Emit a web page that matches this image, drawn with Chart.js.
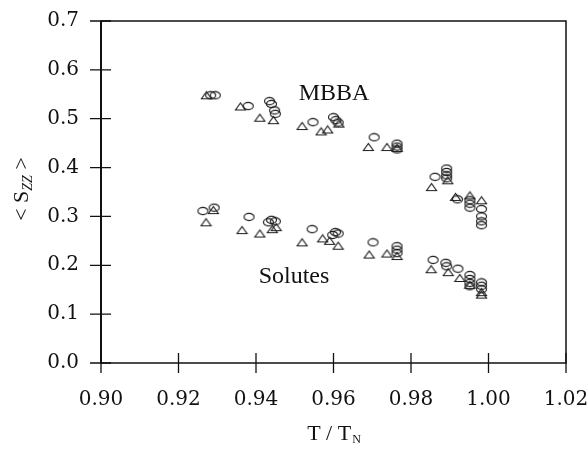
<!DOCTYPE html>
<html lang="en">
<head>
    <meta charset="UTF-8">
    <title>Order parameter vs reduced temperature</title>
    <script src="https://cdn.jsdelivr.net/npm/chart.js@4.4.1/dist/chart.umd.min.js"></script>
    <style>
        body{
            margin: 0;
            padding: 0;
            background-color: white;
        }
        #wrap{
            width: 588px;
            height: 452px;
        }
    </style>
</head>
<body>
    <div id="wrap"><canvas id="mychart" width="588" height="452"></canvas></div>
    <script>
        // values
        const mbbaCircT = [0.9283,0.9295,0.9380,0.9435,0.9440,0.9448,0.9450,0.9547,0.9600,0.9606,0.9612,0.9705,0.9764,0.9764,0.9764,0.9862,0.9892,0.9892,0.9892,0.9892,0.9920,0.9952,0.9952,0.9952,0.9982,0.9982,0.9982,0.9982];
        const mbbaCircS = [0.548,0.548,0.526,0.536,0.530,0.517,0.510,0.493,0.503,0.497,0.492,0.462,0.449,0.443,0.437,0.381,0.398,0.391,0.384,0.378,0.335,0.333,0.326,0.318,0.315,0.300,0.290,0.282];
        const mbbaTriT = [0.9272,0.9360,0.9410,0.9445,0.9519,0.9568,0.9585,0.9614,0.9690,0.9738,0.9764,0.9853,0.9895,0.9915,0.9952,0.9982];
        const mbbaTriS = [0.548,0.525,0.502,0.497,0.485,0.474,0.478,0.490,0.442,0.442,0.440,0.360,0.374,0.340,0.343,0.333];
        const solCircT = [0.9263,0.9292,0.9382,0.9432,0.9440,0.9450,0.9545,0.9598,0.9605,0.9612,0.9702,0.9764,0.9764,0.9764,0.9857,0.9890,0.9892,0.9921,0.9952,0.9952,0.9952,0.9952,0.9982,0.9982,0.9982];
        const solCircS = [0.311,0.318,0.299,0.288,0.293,0.290,0.274,0.262,0.268,0.265,0.247,0.239,0.232,0.225,0.211,0.205,0.198,0.193,0.180,0.172,0.164,0.157,0.165,0.158,0.151];
        const solTriT = [0.9271,0.9290,0.9364,0.9410,0.9442,0.9452,0.9519,0.9572,0.9590,0.9612,0.9692,0.9738,0.9764,0.9852,0.9896,0.9926,0.9952,0.9982,0.9982];
        const solTriS = [0.288,0.313,0.272,0.265,0.274,0.278,0.247,0.255,0.250,0.240,0.222,0.224,0.219,0.192,0.186,0.174,0.160,0.145,0.140];

        const xTicks = [0.90,0.92,0.94,0.96,0.98,1.00,1.02];
        const yTicks = [0.0,0.1,0.2,0.3,0.4,0.5,0.6,0.7];

        const ink = '#111';
        const serif = "'Liberation Serif', 'Times New Roman', serif";
        const tickFont = "'DejaVu Serif', serif";

        // open ellipse and open triangle markers
        function ellipseMark(){
            const c = document.createElement('canvas');
            c.width = 13; c.height = 10;
            const g = c.getContext('2d');
            g.strokeStyle = '#1c1c1c'; g.lineWidth = 1.1;
            g.beginPath();
            g.ellipse(6.5, 5, 5, 3.6, 0, 0, Math.PI*2);
            g.stroke();
            return c;
        }
        function triMark(){
            const c = document.createElement('canvas');
            c.width = 13; c.height = 10;
            const g = c.getContext('2d');
            g.strokeStyle = '#1c1c1c'; g.lineWidth = 1.1;
            g.beginPath();
            g.moveTo(1.5, 8.5); g.lineTo(11.5, 8.5); g.lineTo(6.5, 1.5); g.closePath();
            g.stroke();
            return c;
        }
        const circ = ellipseMark();
        const tri = triMark();

        function pts(xs, ys){
            return xs.map((x,i)=>({x:x, y:ys[i]}));
        }

        const frame = {
            id: 'frame',
            beforeDatasetsDraw(chart){
                const ctx = chart.ctx;
                const xs = chart.scales.x, ys = chart.scales.y;
                const L = xs.getPixelForValue(0.90), R = xs.getPixelForValue(1.02);
                const T = ys.getPixelForValue(0.7), B = ys.getPixelForValue(0);
                ctx.save();
                ctx.strokeStyle = ink;
                ctx.lineWidth = 1.5;
                ctx.strokeRect(L, T, R-L, B-T);
                ctx.lineWidth = 2;
                ctx.beginPath(); ctx.moveTo(L, T); ctx.lineTo(L, B); ctx.stroke();
                ctx.lineWidth = 1.3;
                ctx.beginPath();
                xTicks.forEach(v=>{
                    const p = xs.getPixelForValue(v);
                    ctx.moveTo(p, B-10); ctx.lineTo(p, B+10);
                });
                yTicks.forEach(v=>{
                    const p = ys.getPixelForValue(v);
                    ctx.moveTo(L-11, p); ctx.lineTo(L+10, p);
                });
                ctx.stroke();
                ctx.restore();
            },
            afterDraw(chart){
                const ctx = chart.ctx;
                ctx.save();
                ctx.fillStyle = ink;
                ctx.textBaseline = 'middle';
                // x title: T / T_N
                ctx.font = '22px ' + serif;
                const a = 'T / T', sub = 'N';
                const wa = ctx.measureText(a).width;
                ctx.font = '12px ' + serif;
                const ws = ctx.measureText(sub).width;
                let x0 = (chart.chartArea.left + chart.chartArea.right)/2 - (wa+ws)/2;
                ctx.font = '22px ' + serif;
                ctx.textAlign = 'left';
                ctx.fillText(a, x0, 434);
                ctx.font = '12px ' + serif;
                ctx.fillText(sub, x0 + wa + 1, 440);
                // y title: < S_zz >
                ctx.translate(22, 189);
                ctx.rotate(-Math.PI/2);
                ctx.font = '22px ' + serif;
                const p1 = '< S', p3 = ' >';
                const w1 = ctx.measureText(p1).width, w3 = ctx.measureText(p3).width;
                ctx.font = 'italic 14px ' + serif;
                const w2 = ctx.measureText('ZZ').width;
                let s0 = -(w1+w2+w3)/2;
                ctx.font = '22px ' + serif;
                ctx.fillText(p1, s0, 0);
                ctx.font = 'italic 14px ' + serif;
                ctx.fillText('ZZ', s0 + w1, 6);
                ctx.font = '22px ' + serif;
                ctx.fillText(p3, s0 + w1 + w2, 0);
                ctx.restore();
                // group labels
                ctx.save();
                ctx.fillStyle = ink;
                ctx.font = '24px ' + serif;
                ctx.textAlign = 'center';
                ctx.textBaseline = 'middle';
                ctx.fillText('MBBA', 334, 94);
                ctx.fillText('Solutes', 294, 277);
                ctx.restore();
            }
        };

        const mychart = document.getElementById('mychart').getContext('2d');
        const chart = new Chart(mychart, {
            type: 'scatter',
            data: {
                datasets: [
                    {label:'MBBA o', data: pts(mbbaCircT, mbbaCircS), pointStyle: circ},
                    {label:'MBBA t', data: pts(mbbaTriT, mbbaTriS), pointStyle: tri},
                    {label:'Solutes o', data: pts(solCircT, solCircS), pointStyle: circ},
                    {label:'Solutes t', data: pts(solTriT, solTriS), pointStyle: tri}
                ]
            },
            options: {
                responsive: false,
                animation: false,
                layout: {padding: {top: 21, right: 22, left: 0, bottom: 0}},
                plugins: {legend: {display: false}, tooltip: {enabled: false}},
                scales: {
                    x: {
                        type: 'linear', min: 0.90, max: 1.02,
                        afterFit(s){ s.height = 89; s.paddingLeft = 0; s.paddingRight = 0; },
                        afterBuildTicks(s){ s.ticks = xTicks.map(v=>({value:v})); },
                        grid: {display: false},
                        border: {display: false},
                        ticks: {
                            color: ink, padding: 17,
                            font: {family: tickFont, size: 20},
                            callback: v => v.toFixed(2)
                        }
                    },
                    y: {
                        type: 'linear', min: 0, max: 0.7,
                        afterFit(s){ s.width = 101; s.paddingTop = 0; s.paddingBottom = 0; },
                        afterBuildTicks(s){ s.ticks = yTicks.map(v=>({value:v})); },
                        grid: {display: false},
                        border: {display: false},
                        ticks: {
                            color: ink, padding: 14,
                            font: {family: tickFont, size: 20},
                            callback: v => v.toFixed(1)
                        }
                    }
                }
            },
            plugins: [frame]
        });
    </script>
</body>
</html>
